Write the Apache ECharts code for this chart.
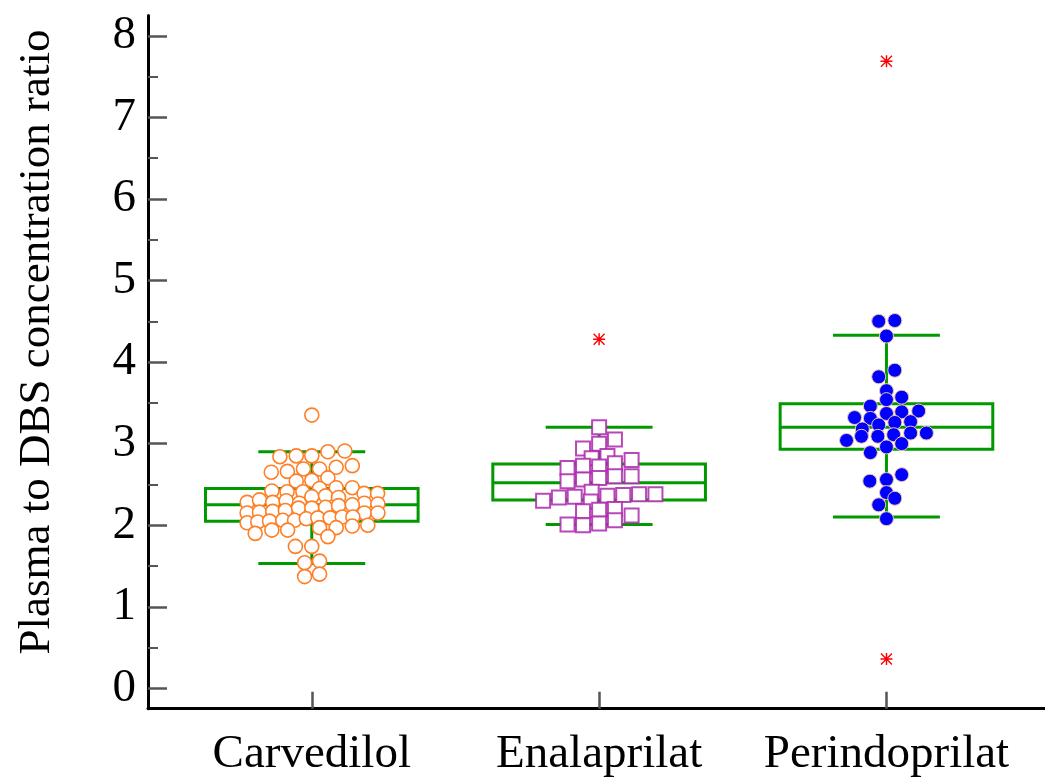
<!DOCTYPE html>
<html>
<head>
<meta charset="utf-8">
<script src="https://cdn.jsdelivr.net/npm/echarts@6/dist/echarts.min.js"></script>
<style>
  html, body { margin: 0; padding: 0; background: #fff; }
  #chart { width: 1045px; height: 781px; }
</style>
</head>
<body>
<div id="chart"></div>
<script>
// Groups along the x axis (placed at x = 1, 2, 3)
const categories = ['Carvedilol', 'Enalaprilat', 'Perindoprilat'];

// Box statistics per group
const boxLow    = [1.53, 2.01, 2.10];
const boxQ1     = [2.05, 2.31, 2.93];
const boxMedian = [2.25, 2.52, 3.20];
const boxQ3     = [2.45, 2.75, 3.49];
const boxHigh   = [2.90, 3.20, 4.33];

// Individual ratios and their horizontal spread (in group units) within each group
const carvedilolValues = [
  3.35,
  2.84, 2.85, 2.85, 2.90, 2.91,
  2.65, 2.66, 2.69, 2.69, 2.71, 2.73,
  2.54, 2.55, 2.58,
  2.42, 2.41, 2.41, 2.45, 2.46, 2.46, 2.39, 2.39,
  2.28, 2.31, 2.28, 2.30, 2.27, 2.35, 2.36, 2.34, 2.27, 2.26,
  2.15, 2.16, 2.17, 2.18, 2.21, 2.21, 2.22, 2.24, 2.25, 2.15, 2.15,
  2.03, 2.04, 2.05, 2.06, 2.06, 2.08, 2.09, 2.09, 2.10, 2.10,
  1.90, 1.94, 1.94, 1.97, 1.97, 1.99, 2.00,
  1.86,
  1.74, 1.74,
  1.54, 1.56,
  1.37, 1.40
];
const carvedilolOffsets = [
  0,
  -0.111, -0.054, 0, 0.056, 0.115,
  -0.141, -0.085, -0.029, 0.027, 0.085, 0.141,
  -0.054, 0, 0.056,
  -0.139, -0.086, -0.031, 0.027, 0.085, 0.141, 0.182, 0.229,
  -0.225, -0.182, -0.136, -0.089, -0.043, 0, 0.048, 0.093, 0.183, 0.230,
  -0.225, -0.182, -0.136, -0.092, -0.046, 0, 0.048, 0.093, 0.141, 0.183, 0.230,
  -0.225, -0.188, -0.147, -0.101, -0.060, -0.019, 0.021, 0.064, 0.106, 0.143,
  -0.197, -0.139, -0.084, 0.027, 0.085, 0.141, 0.195,
  0.056,
  -0.057, 0,
  -0.025, 0.027,
  -0.025, 0.027
];

const enalaprilatValues = [
  3.20, 3.05, 2.94, 3.00, 2.85, 2.82, 2.80,
  2.70, 2.73, 2.72, 2.76,
  2.54, 2.56, 2.58, 2.60, 2.60,
  2.30, 2.34, 2.35, 2.41, 2.36, 2.37, 2.38, 2.38, 2.29,
  2.17, 2.19, 2.20, 2.12,
  2.01, 2.00, 2.02, 2.06
];
const enalaprilatOffsets = [
  0, 0.055, -0.056, 0, 0.029, -0.026, 0.113,
  -0.110, -0.056, 0, 0.055,
  -0.110, -0.056, 0, 0.055, 0.113,
  -0.195, -0.140, -0.085, -0.026, 0.029, 0.084, 0.139, 0.196, -0.029,
  -0.056, 0, 0.055, 0.113,
  -0.110, -0.056, 0, 0.055
];

const perindoprilatValues = [
  4.50, 4.51, 4.32, 3.82, 3.90, 3.65, 3.54, 3.57,
  3.46, 3.37, 3.39, 3.40, 3.32, 3.31, 3.26, 3.27, 3.23, 3.18,
  3.09, 3.09, 3.11, 3.13, 3.13, 3.04, 3.00, 2.96, 2.89,
  2.54, 2.56, 2.62, 2.40, 2.33, 2.25, 2.08
];
const perindoprilatOffsets = [
  -0.027, 0.029, 0, -0.027, 0.029, 0, 0, 0.053,
  -0.056, 0, 0.053, 0.112, -0.111, -0.056, 0.029, 0.084, -0.027, -0.084,
  -0.087, -0.030, 0.025, 0.084, 0.139, -0.139, 0.053, 0, -0.056,
  -0.058, 0, 0.053, 0, 0.029, -0.027, 0
];

// Values outside the whiskers
const outlierGroup  = [2, 3, 3];
const outlierValues = [4.28, 7.69, 0.36];

// Tick values
const yTickValues  = [0, 1, 2, 3, 4, 5, 6, 7, 8];
const yMinorValues = [0.5, 1.5, 2.5, 3.5, 4.5, 5.5, 6.5, 7.5];
const xTickValues  = [1, 2, 3];

const FONT = '"Liberation Serif", "Times New Roman", serif';
const GREEN = '#009a00';
const BOX_HALF = 0.37;
const CAP_HALF = 0.186;

const toPoints = (group, values, offsets) =>
  values.map((v, i) => [group + offsets[i], v]);

const boxData = categories.map((_, i) =>
  [i + 1, boxLow[i], boxQ1[i], boxMedian[i], boxQ3[i], boxHigh[i]]);

// Asterisk marker for outliers
const ASTERISK = 'path://M0,4.4L10,4.4L10,5.6L0,5.6Z M4.4,0L5.6,0L5.6,10L4.4,10Z ' +
  'M0.8,0L10,9.2L9.2,10L0,0.8Z M9.2,0L10,0.8L0.8,10L0,9.2Z';

const chart = echarts.init(document.getElementById('chart'), null, { renderer: 'canvas' });

const lineStyle = { stroke: GREEN, lineWidth: 3, fill: null };

chart.setOption({
  animation: false,
  backgroundColor: '#fff',
  grid: {
    left: 148, top: 15.5, width: 908, height: 693.2,
    outerBoundsMode: 'none', containLabel: false
  },
  xAxis: {
    type: 'value',
    min: 0.43,
    max: 3.59,
    splitLine: { show: false },
    axisLine: { show: true, onZero: false, lineStyle: { color: '#000', width: 3 } },
    axisTick: {
      show: true, inside: true, length: 17, customValues: xTickValues,
      lineStyle: { color: '#555', width: 2.5 }
    },
    axisLabel: {
      customValues: xTickValues,
      formatter: (v) => categories[Math.round(v) - 1],
      fontFamily: FONT, fontSize: 47, color: '#000', margin: 22
    }
  },
  yAxis: [
    {
      type: 'value',
      min: -0.25,
      max: 8.25,
      splitLine: { show: false },
      axisLine: { show: true, onZero: false, lineStyle: { color: '#000', width: 3 } },
      axisTick: {
        show: true, inside: true, length: 19, customValues: yTickValues,
        lineStyle: { color: '#555', width: 2.5 }
      },
      axisLabel: {
        customValues: yTickValues,
        formatter: (v) => String(v),
        fontFamily: FONT, fontSize: 47, color: '#000', margin: 12
      }
    },
    {
      type: 'value',
      min: -0.25,
      max: 8.25,
      position: 'left',
      splitLine: { show: false },
      axisLine: { show: false },
      axisTick: {
        show: true, inside: true, length: 10, customValues: yMinorValues,
        lineStyle: { color: '#555', width: 2 }
      },
      axisLabel: { show: false }
    }
  ],
  graphic: [{
    type: 'text',
    x: 37,
    y: 342,
    rotation: Math.PI / 2,
    style: {
      text: 'Plasma to DBS concentration ratio',
      font: '45px ' + FONT,
      fill: '#000',
      textAlign: 'center',
      textVerticalAlign: 'middle'
    }
  }],
  series: [
    {
      type: 'custom',
      z: 1,
      data: boxData,
      renderItem: (params, api) => {
        const c = api.value(0);
        const lo = api.value(1), q1 = api.value(2), med = api.value(3),
              q3 = api.value(4), hi = api.value(5);
        const p = (x, y) => api.coord([x, y]);
        const tl = p(c - BOX_HALF, q3), br = p(c + BOX_HALF, q1);
        const seg = (a, b) => ({
          type: 'line', shape: { x1: a[0], y1: a[1], x2: b[0], y2: b[1] }, style: lineStyle
        });
        return {
          type: 'group',
          children: [
            seg(p(c, q3), p(c, hi)),
            seg(p(c, q1), p(c, lo)),
            seg(p(c - CAP_HALF, hi), p(c + CAP_HALF, hi)),
            seg(p(c - CAP_HALF, lo), p(c + CAP_HALF, lo)),
            {
              type: 'rect',
              shape: { x: tl[0], y: tl[1], width: br[0] - tl[0], height: br[1] - tl[1] },
              style: lineStyle
            },
            seg(p(c - BOX_HALF, med), p(c + BOX_HALF, med))
          ]
        };
      }
    },
    {
      type: 'scatter',
      z: 2,
      symbol: 'circle',
      symbolSize: 14,
      itemStyle: { color: '#fff', borderColor: '#ff7f27', borderWidth: 1.6, opacity: 1 },
      data: toPoints(1, carvedilolValues, carvedilolOffsets)
    },
    {
      type: 'scatter',
      z: 2,
      symbol: 'rect',
      symbolSize: 14,
      itemStyle: { color: '#fff', borderColor: 'rgba(170,40,170,0.85)', borderWidth: 2, opacity: 1 },
      data: toPoints(2, enalaprilatValues, enalaprilatOffsets)
    },
    {
      type: 'scatter',
      z: 2,
      symbol: 'circle',
      symbolSize: 14,
      itemStyle: { color: '#0000ff', borderColor: '#f5c8a0', borderWidth: 1, opacity: 1 },
      data: toPoints(3, perindoprilatValues, perindoprilatOffsets)
    },
    {
      type: 'scatter',
      z: 3,
      symbol: ASTERISK,
      symbolSize: 12,
      itemStyle: { color: '#ff0000', opacity: 1 },
      data: outlierValues.map((v, i) => [outlierGroup[i], v])
    }
  ]
});
</script>
</body>
</html>
